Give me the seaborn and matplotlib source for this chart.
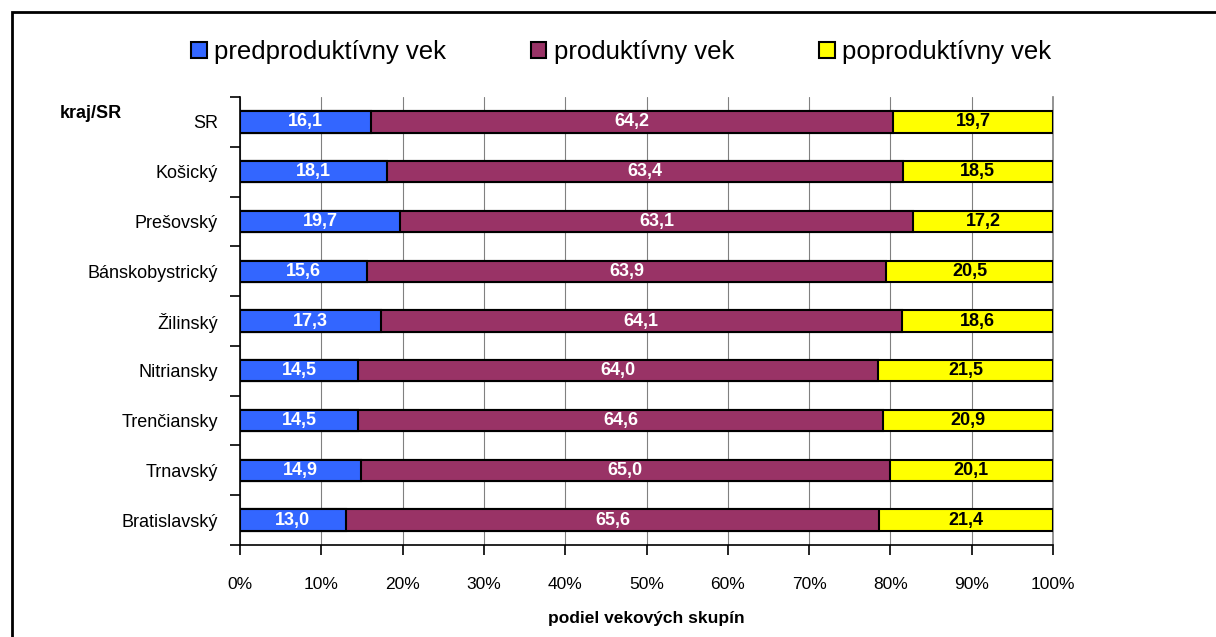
#!/usr/bin/env python3
"""
Stacked horizontal bars: share of age groups by region (kraj/SR).
"""
import matplotlib
matplotlib.use("Agg")
import matplotlib.pyplot as plt
from matplotlib.patches import Patch, Rectangle
import pandas as pd
import seaborn as sns

regions = ["SR", "Košický", "Prešovský", "Bánskobystrický", "Žilinský",
           "Nitriansky", "Trenčiansky", "Trnavský", "Bratislavský"]
pre = [16.1, 18.1, 19.7, 15.6, 17.3, 14.5, 14.5, 14.9, 13.0]
prod = [64.2, 63.4, 63.1, 63.9, 64.1, 64.0, 64.6, 65.0, 65.6]
post = [19.7, 18.5, 17.2, 20.5, 18.6, 21.5, 20.9, 20.1, 21.4]
series = ["predproduktívny vek", "produktívny vek", "poproduktívny vek"]
colors = ["#3366FF", "#993366", "#FFFF00"]
x_ticks = [0, 10, 20, 30, 40, 50, 60, 70, 80, 90, 100]

sns.set_theme(style="white")
plt.rcParams["font.family"] = ["Liberation Sans", "DejaVu Sans"]
plt.rcParams["text.color"] = "black"
plt.rcParams["axes.labelcolor"] = "black"
plt.rcParams["xtick.labelcolor"] = "black"
plt.rcParams["ytick.labelcolor"] = "black"

df = pd.DataFrame({"kraj": regions, "pre": pre, "prod": prod, "post": post})
df["c1"] = df["pre"]
df["c2"] = df["pre"] + df["prod"]
df["c3"] = df["c2"] + df["post"]

fig = plt.figure(figsize=(12.16, 6.37), dpi=100)
ax = fig.add_axes([0.1974, 0.1444, 0.6686, 0.7033])

# draw cumulative bars back to front so they look stacked
for col, color in zip(["c3", "c2", "c1"], colors[::-1]):
    sns.barplot(data=df, x=col, y="kraj", orient="h", color=color,
                width=0.43, edgecolor="black", linewidth=1.5,
                saturation=1, ax=ax, zorder=3)

for i, row in df.iterrows():
    ax.text(row["pre"] / 2, i, f"{row['pre']:.1f}".replace(".", ","),
            ha="center", va="center", color="white", fontsize=13,
            fontweight="bold", zorder=5)
    ax.text(row["pre"] + row["prod"] / 2, i,
            f"{row['prod']:.1f}".replace(".", ","),
            ha="center", va="center", color="white", fontsize=13,
            fontweight="bold", zorder=5)
    ax.text(row["c2"] + row["post"] / 2, i,
            f"{row['post']:.1f}".replace(".", ","),
            ha="center", va="center", color="black", fontsize=13,
            fontweight="bold", zorder=5)

ax.set_xlim(0, 100)
ax.set_ylim(len(regions) - 0.5, -0.5)
ax.set_xticks(x_ticks)
ax.set_xticklabels([f"{t}%" for t in x_ticks], fontsize=12.5)
ax.xaxis.grid(True, color="#808080", linewidth=0.8)
ax.set_axisbelow(True)

# ticks between categories, labels centred on bars
ax.set_yticks([i + 0.5 for i in range(-1, len(regions))])
ax.set_yticklabels([])
ax.set_yticks(range(len(regions)), minor=True)
ax.set_yticklabels(regions, minor=True, fontsize=13)
ax.tick_params(axis="y", which="major", left=True, length=7, width=1.2,
               color="black", direction="out")
ax.tick_params(axis="y", which="minor", left=True, length=0, pad=16)
ax.tick_params(axis="x", bottom=True, length=7, width=1.2, color="black",
               direction="out", pad=16)

ax.set_ylabel("")
ax.set_xlabel("podiel vekových skupín", fontsize=12.5, fontweight="bold",
              labelpad=14)

ax.spines["top"].set_visible(False)
ax.spines["right"].set_color("#808080")
ax.spines["right"].set_linewidth(1.2)
ax.spines["left"].set_color("black")
ax.spines["left"].set_linewidth(1.2)
ax.spines["bottom"].set_color("black")
ax.spines["bottom"].set_linewidth(1.2)

fig.text(60 / 1216, 1 - 113 / 637, "kraj/SR", fontsize=13,
         fontweight="bold", va="center", ha="left")

handles = [Patch(facecolor=c, edgecolor="black", linewidth=1.5) for c in colors]
fig.legend(handles, series, loc="center", ncol=3,
           bbox_to_anchor=(0.511, 1 - 52 / 637), frameon=False,
           fontsize=18.5, handlelength=0.6, handleheight=0.6,
           handletextpad=0.3, columnspacing=3.3)

fig.patches.append(Rectangle((12 / 1216, -0.1), 1.2, 1.1 - 12 / 637,
                             transform=fig.transFigure, fill=False,
                             edgecolor="black", linewidth=2))

plt.savefig("out.png", dpi=100)
